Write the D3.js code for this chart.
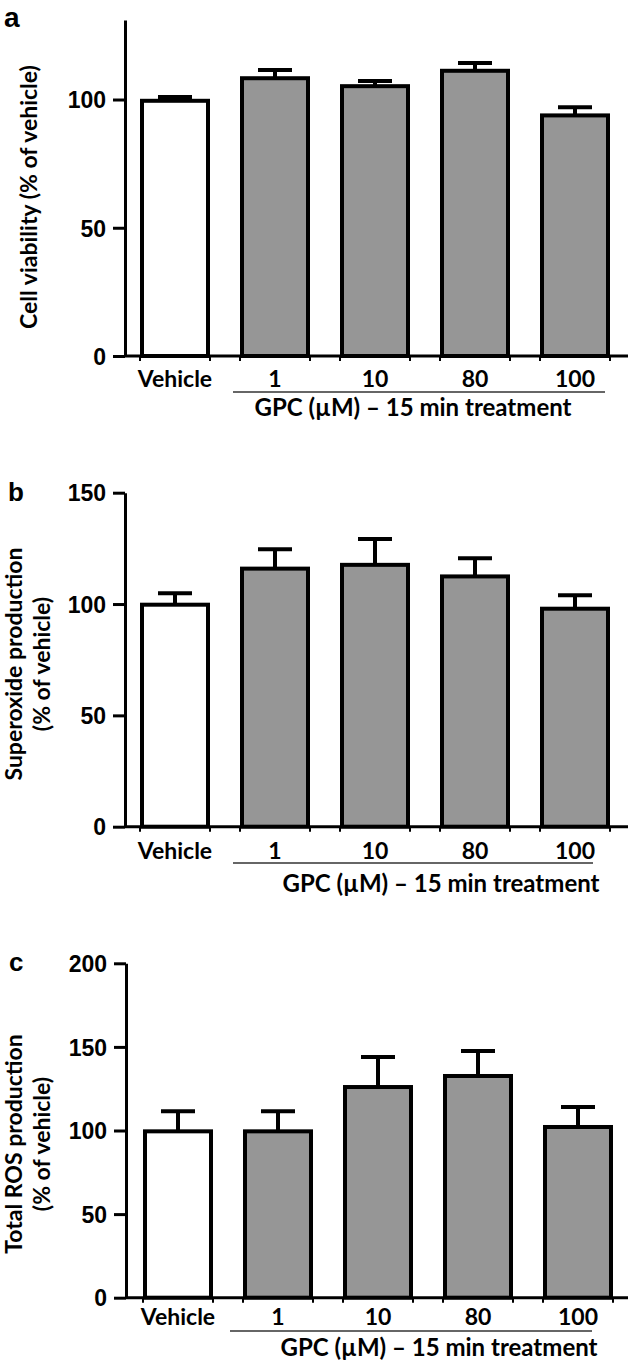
<!DOCTYPE html>
<html lang="en">
<head>
<meta charset="utf-8">
<title>GPC treatment bars</title>
<style>
  body { margin: 0; background: #fff; }
  text { fill: #000; }
  .lbl { font-family: Lato, "Open Sans", sans-serif; font-weight: bold; }
  .tk { font-family: "Liberation Sans", Arial, sans-serif; font-weight: bold; }
</style>
</head>
<body>
<svg id="fig" width="629" height="1365"></svg>
<script src="https://d3js.org/d3.v7.min.js"></script>
<script>
// data
const categories = ["Vehicle", "1", "10", "80", "100"];

const viabilityMean = [99.5, 108.3, 105.2, 111.2, 93.8];
const viabilityErr  = [1.5, 3.2, 2.0, 3.0, 3.2];
const viabilityTicks = [0, 50, 100];

const superoxideMean = [99.7, 115.9, 117.6, 112.4, 97.9];
const superoxideErr  = [5.1, 8.7, 11.6, 8.2, 6.1];
const superoxideTicks = [0, 50, 100, 150];

const rosMean = [99.5, 99.5, 126.0, 132.6, 102.1];
const rosErr  = [12.0, 12.0, 18.0, 15.0, 12.0];
const rosTicks = [0, 50, 100, 150, 200];

const groupLabel = "GPC (\u00b5M) \u2013 15 min treatment";

// one entry per panel, layout only
const panels = [
  { letter: "a", mean: viabilityMean, err: viabilityErr, ticks: viabilityTicks, max: 131,
    title: ["Cell viability (% of vehicle)"], titleX: [37], titleY: 197,
    ax: 125, x0: 125, x1: 625, yb: 356, yt: 20,
    labY: 387, lineY: 392, lineX: [233, 605], grpY: 416, grpX: 413, letX: 4, letY: 27, letSize: 28 },
  { letter: "b", mean: superoxideMean, err: superoxideErr, ticks: superoxideTicks, max: 150,
    title: ["Superoxide production", "(% of vehicle)"], titleX: [22, 50], titleY: 664,
    ax: 125, x0: 125, x1: 625, yb: 826.7, yt: 492.7,
    labY: 859, lineY: 863, lineX: [233, 593], grpY: 892, grpX: 441, letX: 8, letY: 501, letSize: 26 },
  { letter: "c", mean: rosMean, err: rosErr, ticks: rosTicks, max: 200,
    title: ["Total ROS production", "(% of vehicle)"], titleX: [22, 50], titleY: 1144,
    ax: 126, x0: 128, x1: 628, yb: 1297.7, yt: 963.3,
    labY: 1325, lineY: 1331, lineX: [230, 592], grpY: 1356, grpX: 439, letX: 9, letY: 971, letSize: 26 }
];

const svg = d3.select("#fig");

panels.forEach(p => {
  const g = svg.append("g");

  const x = d3.scaleBand().domain(categories).range([p.x0, p.x1])
    .paddingInner(0.3).paddingOuter(0.15);
  const y = d3.scaleLinear().domain([0, p.max]).range([p.yb, p.yt]);
  const bw = x.bandwidth();

  // bars
  g.selectAll("rect.bar").data(categories).enter().append("rect")
    .attr("class", "bar")
    .attr("x", d => x(d) + 2)
    .attr("width", bw - 4)
    .attr("y", (d, i) => y(p.mean[i]))
    .attr("height", (d, i) => y(0) - y(p.mean[i]))
    .attr("fill", (d, i) => i == 0 ? "#fff" : "#969696")
    .attr("stroke", "#000")
    .attr("stroke-width", 4);

  // error bars (upper only)
  g.selectAll("line.eb").data(categories).enter().append("line")
    .attr("x1", d => x(d) + bw / 2).attr("x2", d => x(d) + bw / 2)
    .attr("y1", (d, i) => y(p.mean[i]))
    .attr("y2", (d, i) => y(p.mean[i] + p.err[i]))
    .attr("stroke", "#000").attr("stroke-width", 4);
  g.selectAll("line.cap").data(categories).enter().append("line")
    .attr("x1", d => x(d) + bw / 2 - 17).attr("x2", d => x(d) + bw / 2 + 17)
    .attr("y1", (d, i) => y(p.mean[i] + p.err[i]))
    .attr("y2", (d, i) => y(p.mean[i] + p.err[i]))
    .attr("stroke", "#000").attr("stroke-width", 4);

  // small ticks at the bar edges
  categories.forEach(c => {
    [x(c), x(c) + bw].forEach(ex => {
      g.append("line").attr("x1", ex).attr("x2", ex)
        .attr("y1", y(0)).attr("y2", y(0) + 5)
        .attr("stroke", "#000").attr("stroke-width", 2);
    });
  });

  // x axis line
  g.append("line")
    .attr("x1", p.ax).attr("x2", 628)
    .attr("y1", y(0)).attr("y2", y(0))
    .attr("stroke", "#000").attr("stroke-width", 3);

  // y axis
  const yAxis = g.append("g")
    .attr("transform", "translate(" + p.ax + ",0)")
    .call(d3.axisLeft(y).tickValues(p.ticks).tickSize(12).tickSizeOuter(0).tickPadding(7));
  yAxis.select(".domain").attr("stroke-width", 3);
  yAxis.selectAll(".tick line").attr("stroke-width", 3);
  yAxis.selectAll(".tick text").attr("class", "tk")
    .style("font-size", "23px").attr("fill", "#000").attr("dy", "0.36em");

  // category labels
  g.selectAll("text.cat").data(categories).enter().append("text")
    .attr("class", "lbl")
    .attr("x", d => x(d) + bw / 2)
    .attr("y", p.labY)
    .attr("text-anchor", "middle")
    .style("font-size", "23px")
    .text(d => d);

  // group line and label
  g.append("line")
    .attr("x1", p.lineX[0]).attr("x2", p.lineX[1])
    .attr("y1", p.lineY).attr("y2", p.lineY)
    .attr("stroke", "#333").attr("stroke-width", 1.6);
  g.append("text").attr("class", "lbl")
    .attr("x", p.grpX).attr("y", p.grpY)
    .attr("text-anchor", "middle")
    .style("font-size", "24px")
    .text(groupLabel);

  // y title
  p.title.forEach((t, i) => {
    g.append("text").attr("class", "lbl")
      .attr("transform", "translate(" + p.titleX[i] + "," + p.titleY + ") rotate(-90)")
      .attr("text-anchor", "middle")
      .style("font-size", "23px")
      .text(t);
  });

  // panel letter
  g.append("text").attr("class", "tk")
    .attr("x", p.letX).attr("y", p.letY)
    .style("font-size", p.letSize + "px")
    .text(p.letter);
});
</script>
</body>
</html>
